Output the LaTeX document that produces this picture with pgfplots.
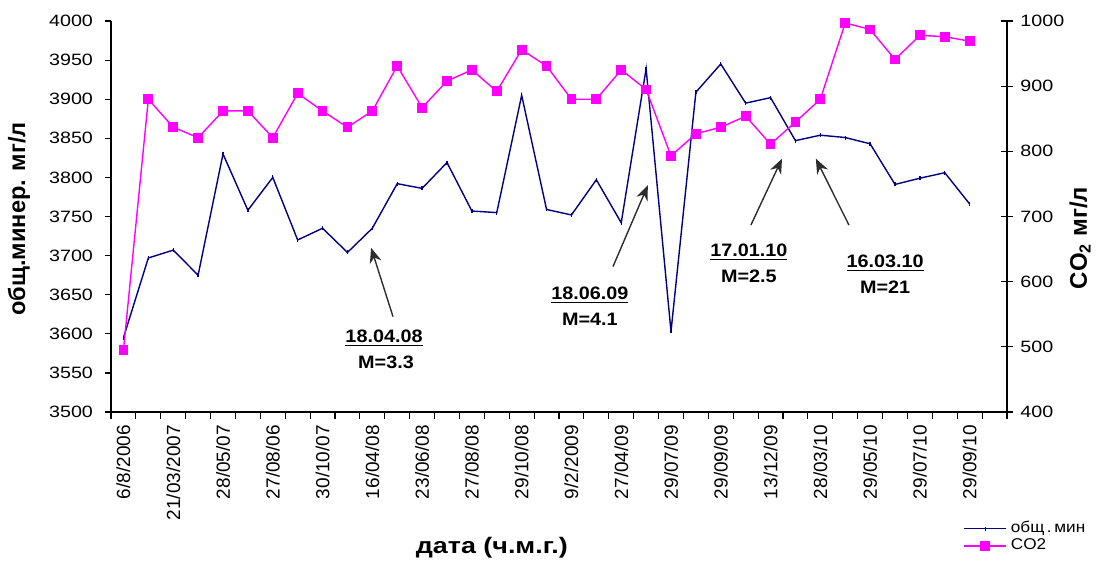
\documentclass[border=0pt]{standalone}
\usepackage{pgfplots}
\usepackage{pgfplotstable}
\pgfplotsset{compat=1.18}
\usetikzlibrary{arrows.meta}
\usepackage{fontspec}
\setmainfont{Liberation Sans}
\newfontfamily\widesans{Liberation Sans}[FakeStretch=1.2]
\newfontfamily\annsans{Liberation Sans}[FakeStretch=1.1]

\definecolor{minblue}{RGB}{0,0,128}
\definecolor{coviolet}{RGB}{255,0,255}
\definecolor{arrowgray}{RGB}{45,45,45}

% total mineralisation, mg/l (left axis)
\pgfplotstableread{
idx val
0 3595
1 3697
2 3707
3 3675
4 3830
5 3758
6 3800
7 3720
8 3735
9 3704
10 3735
11 3792
12 3786
13 3819
14 3757
15 3755
16 3905
17 3759
18 3752
19 3797
20 3742
21 3939
22 3603
23 3909
24 3945
25 3895
26 3902
27 3847
28 3854
29 3851
30 3843
31 3791
32 3799
33 3806
34 3766
}\minertable

% CO2, mg/l (right axis)
\pgfplotstableread{
idx val
0 495
1 880
2 837
3 821
4 862
5 862
6 821
7 889
8 862
9 837
10 862
11 931
12 867
13 908
14 925
15 892
16 956
17 931
18 880
19 880
20 925
21 895
22 793
23 827
24 837
25 854
26 811
27 845
28 880
29 997
30 987
31 941
32 978
33 976
34 969
}\cotable

\begin{document}
\begin{tikzpicture}
\useasboundingbox (0,0) rectangle (550.5pt,282pt);
\pgfplotsset{
  common/.style={
    at={(55.5pt,76pt)}, anchor=south west,
    scale only axis, width=448pt, height=195.5pt,
    xmin=-0.5, xmax=35.5,
    axis line style={line width=0.6pt},
    every tick/.style={black, line width=0.6pt},
    /pgf/number format/assume math mode=true,
    /pgf/number format/1000 sep={},
    scaled y ticks=false,
    tick align=outside,
    yticklabel style={font=\widesans\fontsize{8.2}{9}\selectfont},
  }
}
\begin{axis}[common,
  clip=false,
  axis x line*=bottom, axis y line*=left,
  ymin=3500, ymax=4000, ytick={3500,3550,...,4000},
  major tick length=3pt,
  yticklabel style={xshift=-2.5pt},
  xtick={0,2,...,34},
  xticklabels={6/8/2006,21/03/2007,28/05/07,27/08/06,30/10/07,16/04/08,23/06/08,27/08/08,29/10/08,9/2/2009,27/04/09,29/07/09,29/09/09,13/12/09,28/03/10,29/05/10,29/07/10,29/09/10},
  every major x tick/.append style={draw=none},
  minor xtick={-0.5,0.5,...,35.5},
  minor tick length=3.3pt,
  xticklabel style={rotate=90, anchor=east, font=\fontsize{9.5}{10}\selectfont},
  xlabel={дата (ч.м.г.)},
  xlabel style={font=\widesans\bfseries\fontsize{11.2}{13}\selectfont, at={(axis description cs:0.425,-0.348)}, anchor=center},
  ylabel={общ.минер. мг/л},
  ylabel style={font=\bfseries\fontsize{11.8}{13}\selectfont, at={(axis description cs:-0.1027,0.4936)}, anchor=center},
  legend style={at={(axis description cs:0.951,-0.32)}, anchor=west, draw=none, fill=none,
    font=\annsans\fontsize{7.8}{9}\selectfont, inner sep=0pt, row sep=-2.5pt},
  legend cell align=left,
  legend image code/.code={\draw[mark repeat=2,mark phase=2,#1] plot coordinates {(0pt,0pt) (10.5pt,0pt) (21pt,0pt)};},
]
\addplot[minblue, line width=0.7pt, mark=|, mark size=1pt] table[x=idx,y=val]{\minertable};
\addlegendentry{общ\,.\,мин}
\addlegendimage{coviolet, line width=0.7pt, mark=square*, mark size=2.1pt}
\addlegendentry{CO2}

% event arrows and notes
\begin{scope}[arrowgray, line width=0.7pt, -{Stealth[length=7.5pt,width=6pt]}]
\draw (axis cs:10.83,3622) -- (axis cs:9.95,3710);
\draw (axis cs:19.67,3686) -- (axis cs:21.07,3790);
\draw (axis cs:25.21,3739) -- (axis cs:26.46,3824);
\draw (axis cs:29.15,3739) -- (axis cs:27.82,3824);
\end{scope}
\begin{scope}[every node/.style={font=\annsans\bfseries\fontsize{9}{10}\selectfont, inner sep=0pt}]
\node at (axis cs:10.47,3594) {\underline{18.04.08}};
\node at (axis cs:10.55,3564) {M=3.3};
\node at (axis cs:18.74,3649) {\underline{18.06.09}};
\node at (axis cs:18.74,3618) {M=4.1};
\node at (axis cs:25.13,3704) {\underline{17.01.10}};
\node at (axis cs:25.13,3673) {M=2.5};
\node at (axis cs:30.6,3690) {\underline{16.03.10}};
\node at (axis cs:30.6,3660) {M=21};
\end{scope}
\end{axis}

\begin{axis}[common,
  axis x line=none, axis y line*=right,
  ymin=400, ymax=1000, ytick={400,500,...,1000},
  tick align=center, major tick length=6.4pt,
  ylabel={\bfseries CO\textsubscript{2} мг/л},
  ylabel style={font=\fontsize{12}{13}\selectfont, at={(axis description cs:1.0815,0.445)}, anchor=center},
]
\addplot[coviolet, line width=0.7pt, mark=square*, mark size=2.1pt] table[x=idx,y=val]{\cotable};
\end{axis}
\end{tikzpicture}
\end{document}
